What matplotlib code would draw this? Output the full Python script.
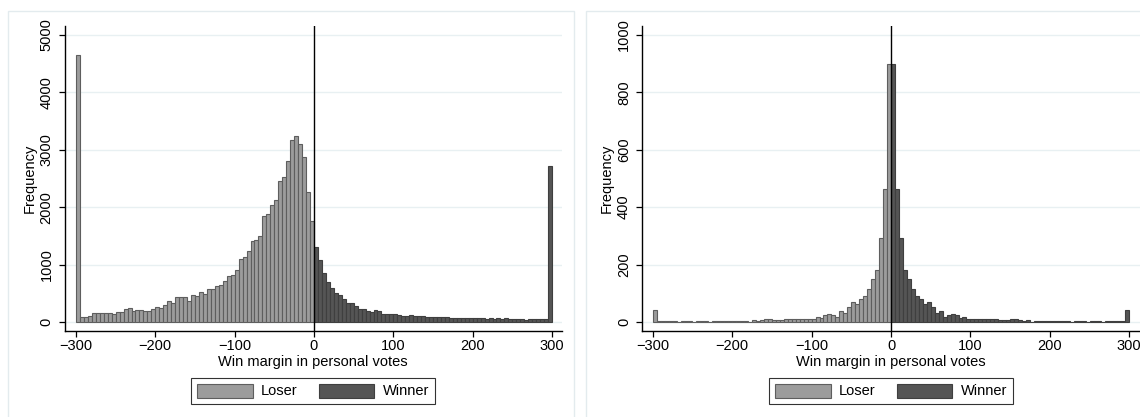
import matplotlib
matplotlib.use("Agg")
import matplotlib.pyplot as plt
from matplotlib.patches import Rectangle, Patch
import numpy as np

plt.rcParams['font.family'] = ['Liberation Sans', 'DejaVu Sans']

# bin left edges: -300 ... 295, width 5
loser_edges = list(range(-300, 0, 5))
winner_edges = list(range(0, 300, 5))
BIN = 5

# Panel 1 (all races)
left_loser = [4650, 87, 87, 110, 163, 163, 150, 148, 148, 140, 168, 168, 221, 238, 192,
              203, 209, 186, 192, 226, 255, 238, 302, 360, 330, 440, 440, 430, 370, 470,
              455, 528, 482, 569, 580, 627, 645, 720, 807, 825, 900, 1103, 1132, 1237, 1405,
              1423, 1504, 1852, 1875, 2033, 2131, 2451, 2521, 2805, 3165, 3235, 3101, 2880, 2270, 1754]
left_winner = [1312, 1080, 848, 703, 600, 505, 465, 395, 337, 325, 279, 232, 226, 186, 180,
               209, 197, 145, 134, 139, 134, 122, 105, 105, 122, 110, 99, 99, 81, 87,
               87, 90, 85, 80, 78, 70, 68, 72, 65, 62, 68, 72, 66, 60, 62,
               58, 65, 60, 62, 55, 50, 45, 55, 42, 45, 48, 52, 47, 45, 2720]

# Panel 2 (two-candidate races)
right_loser = [42, 3, 2, 3, 2, 2, 0, 2, 2, 3, 0, 2, 2, 2, 0,
               2, 3, 4, 3, 2, 3, 4, 3, 2, 0, 7, 5, 7, 9, 12,
               7, 7, 7, 9, 10, 12, 11, 10, 10, 11, 11, 17, 14, 26, 27,
               25, 17, 38, 32, 51, 68, 63, 80, 89, 115, 148, 180, 293, 463, 900]
right_winner = [900, 463, 293, 180, 148, 115, 89, 80, 63, 68, 51, 32, 38, 17, 25,
                27, 26, 14, 17, 11, 11, 10, 10, 11, 12, 10, 9, 7, 7, 7,
                12, 9, 7, 5, 7, 0, 2, 3, 4, 3, 2, 3, 4, 3, 2,
                0, 2, 2, 2, 0, 3, 2, 2, 0, 2, 2, 3, 2, 3, 42]

x_ticks = [-300, -200, -100, 0, 100, 200, 300]
x_ticklabels = ['\u2212300', '\u2212200', '\u2212100', '0', '100', '200', '300']
left_yticks = [0, 1000, 2000, 3000, 4000, 5000]
right_yticks = [0, 200, 400, 600, 800, 1000]
xlabel = 'Win margin in personal votes'
ylabel = 'Frequency'
legend_labels = ['Loser', 'Winner']

LOSER_FC, LOSER_EC = '#9c9c9c', '#5e5e5e'
WIN_FC, WIN_EC = '#555555', '#3f3f3f'
GRID = '#e8f0f2'
FS = 10.5

W, H = 1140, 417
fig = plt.figure(figsize=(W / 100, H / 100), dpi=100)
fig.patch.set_facecolor('white')

def px_rect(x0, y0, x1, y1):
    return [x0 / W, 1 - y1 / H, (x1 - x0) / W, (y1 - y0) / H]

# outer panel frames (extend past the bottom edge of the image)
for (x0, x1) in [(8, 574), (586, 1160)]:
    fig.add_artist(Rectangle((x0 / W, 1 - 425 / H), (x1 - x0) / W, (425 - 11) / H,
                             transform=fig.transFigure, fill=False,
                             edgecolor='#e3ebee', lw=1.0))

panels = [
    (px_rect(64.7, 26, 561.7, 331), left_loser, left_winner, left_yticks, (-314.2, 312.2), (-157, 5157), 313),
    (px_rect(642, 26, 1140, 331), right_loser, right_winner, right_yticks, (-313.5, 313.5), (-31.4, 1031), 891),
]

for rect, lv, wv, yt, xl, yl, legx in panels:
    ax = fig.add_axes(rect)
    ax.bar(loser_edges, lv, width=BIN, align='edge', color=LOSER_FC,
           edgecolor=LOSER_EC, linewidth=0.8, zorder=2)
    ax.bar(winner_edges, wv, width=BIN, align='edge', color=WIN_FC,
           edgecolor=WIN_EC, linewidth=0.8, zorder=2)
    ax.axvline(0, color='black', lw=1.0, zorder=3)
    ax.set_xlim(*xl)
    ax.set_ylim(*yl)
    ax.set_xticks(x_ticks)
    ax.set_xticklabels(x_ticklabels, fontsize=FS)
    ax.set_yticks(yt)
    ax.set_yticklabels([str(v) for v in yt], fontsize=FS, rotation=90, va='center')
    ax.yaxis.grid(True, color=GRID, lw=1.0, zorder=0)
    ax.set_axisbelow(True)
    for s in ['top', 'right']:
        ax.spines[s].set_visible(False)
    for s in ['left', 'bottom']:
        ax.spines[s].set_color('black')
        ax.spines[s].set_linewidth(1.0)
    ax.tick_params(axis='both', length=4, width=0.9, color='black')
    ax.tick_params(axis='x', pad=2)
    ax.tick_params(axis='y', pad=4)
    ax.set_xlabel(xlabel, fontsize=FS, labelpad=1)
    ax.set_ylabel(ylabel, fontsize=FS, labelpad=2)
    handles = [Patch(facecolor=LOSER_FC, edgecolor=LOSER_EC, lw=0.8),
               Patch(facecolor=WIN_FC, edgecolor=WIN_EC, lw=0.8)]
    leg = fig.legend(handles, legend_labels, loc='center', ncol=2,
                     bbox_to_anchor=(legx / W, 1 - 391 / H),
                     bbox_transform=fig.transFigure, fontsize=FS,
                     frameon=True, fancybox=False, handlelength=3.8,
                     handleheight=1.1, handletextpad=0.55, columnspacing=1.5,
                     borderpad=0.4)
    leg.get_frame().set_edgecolor('black')
    leg.get_frame().set_linewidth(0.8)

fig.savefig('out.png', dpi=100, facecolor='white')
